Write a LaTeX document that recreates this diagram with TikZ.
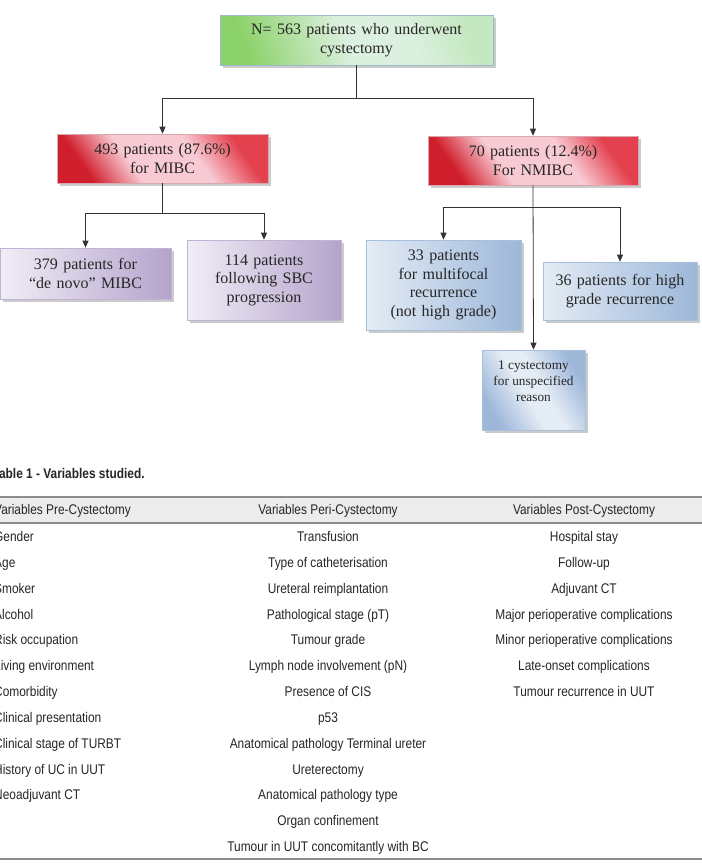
\documentclass[tikz,border=0pt]{standalone}
\usepackage{fontspec}
\setmainfont{Liberation Serif}
\newfontfamily\tabfont[FakeStretch=0.85]{Liberation Sans}
\usepackage{tikz}
\usetikzlibrary{arrows.meta,shadows}

\definecolor{linegray}{HTML}{333333}
\definecolor{rulegray}{HTML}{8C8C8C}
\definecolor{headgray}{HTML}{ECECEC}
\definecolor{greenL}{HTML}{8CD26A}
\definecolor{greenM}{HTML}{DCF0DF}
\definecolor{greenR}{HTML}{C4E8C0}
\definecolor{greenedge}{HTML}{9DBBCB}
\definecolor{redD}{HTML}{D01F2C}
\definecolor{redM}{HTML}{F8CAD3}
\definecolor{redR}{HTML}{E3414E}
\definecolor{rededge}{HTML}{D8A8B0}
\definecolor{purL}{HTML}{F1EDF6}
\definecolor{purM}{HTML}{DCD4E8}
\definecolor{purR}{HTML}{B4A4CC}
\definecolor{puredge}{HTML}{C0B4D4}
\definecolor{bluL}{HTML}{E4ECF5}
\definecolor{bluM}{HTML}{CDDBEC}
\definecolor{bluR}{HTML}{9DB7D9}
\definecolor{bluedge}{HTML}{A8C0DC}

\pgfdeclarehorizontalshading{redfade}{100bp}{color(0bp)=(redD); color(26bp)=(redD); color(40bp)=(redM); color(60bp)=(redM); color(74bp)=(redR); color(100bp)=(redR)}
\pgfdeclarehorizontalshading{greenfade}{100bp}{color(0bp)=(greenL); color(25bp)=(greenL); color(48bp)=(greenM); color(62bp)=(greenM); color(75bp)=(greenR); color(100bp)=(greenR)}
\pgfdeclarehorizontalshading{bluefade}{100bp}{color(0bp)=(bluR); color(25bp)=(bluR); color(45bp)=(bluL); color(55bp)=(bluL); color(75bp)=(bluR); color(100bp)=(bluR)}

\tikzset{
  box/.style={draw=#1, line width=0.6pt, align=center, inner xsep=2pt, inner ysep=0pt,
    font=\fontsize{16}{18.5}\selectfont, text=black!85,
    drop shadow={shadow xshift=2.5pt, shadow yshift=-2.5pt, fill=black!40}},
  greenbox/.style={box=greenedge, shading=greenfade, shading angle=20},
  redbox/.style={box=rededge, shading=redfade, shading angle=35},
  purbox/.style={box=puredge, left color=purL, middle color=purM, right color=purR},
  blubox/.style={box=bluedge, left color=bluL, middle color=bluM, right color=bluR},
  link/.style={draw=linegray, line width=0.8pt},
  cell/.style={font=\tabfont\fontsize{14}{16}\selectfont, text=black!85, inner sep=0pt, anchor=base},
}

\begin{document}
\begin{tikzpicture}[x=1pt, y=1pt, >={Triangle[length=7pt,width=6pt]}]
        \path [use as bounding box, fill=white] (0,0) rectangle (702,-863);

        % flow chart
        \node [greenbox, text width=269pt, minimum height=50pt] (cyst)   at (356.5,-40)  {N= 563 patients who underwent\\cystectomy};
        \node [redbox,   text width=207pt, minimum height=49pt] (mibc)   at (162.5,-158.5) {493 patients (87.6\%)\\for MIBC};
        \node [redbox,   text width=206pt, minimum height=49pt] (nmibc)  at (533,-160.5) {70 patients (12.4\%)\\For NMIBC};
        \node [purbox,   text width=167pt, minimum height=51pt] (denovo) at (85.5,-273.5) {379 patients for\\“de novo” MIBC};
        \node [purbox,   text width=150pt, minimum height=80pt] (sbc)    at (264,-280)   {114 patients\\following SBC\\progression};
        \node [blubox,   text width=151pt, minimum height=90pt] (multi)  at (443.5,-285) {33 patients\\for multifocal\\recurrence\\(not high grade)};
        \node [blubox,   text width=150pt, minimum height=58pt] (highgr) at (620,-291)   {36 patients for high\\grade recurrence};
        \node [box=bluedge, shading=bluefade, shading angle=30,
               inner ysep=11pt, font=\fontsize{13.3}{16}\selectfont] (unspec) at (533.5,-390)
               {\parbox[c][58pt][t]{99pt}{\centering 1 cystectomy\\for unspecified\\reason}};

        \coordinate (j0) at (356.5,-98);                          %
        \coordinate (j1) at (162.5,-213);                         %
        \coordinate (j2) at (533,-207);                           %
        \draw [link]     (cyst.south)  -- (j0);                   %
        \draw [link, ->] (j0)          -| (mibc.north);           %
        \draw [link, ->] (j0)          -| (nmibc.north);          %
        \draw [link]     (mibc.south)  -- (j1);                   %
        \draw [link, ->] (j1)          -| (denovo.north);         %
        \draw [link, ->] (j1)          -| (sbc.north);            %
        \draw [link, ->] (nmibc.south) -- (unspec.north);         %
        \draw [link, ->] (j2)          -| (multi.north);          %
        \draw [link, ->] (j2)          -| (highgr.north);         %

        % table
        \node [cell, anchor=base west, font=\tabfont\bfseries\fontsize{14}{16}\selectfont] (caption) at (-7.5,-478) {Table 1 - Variables studied.};
        \fill [headgray] (0,-497) rectangle (702,-523);           %
        \draw [rulegray, line width=1.2pt] (0,-497) -- (702,-497);%
        \draw [rulegray, line width=1.2pt] (0,-523) -- (702,-523);%
        \draw [rulegray, line width=1.2pt] (0,-859) -- (702,-859);%
        \node [cell, anchor=base west] (hpre)  at (-6,-514.5) {Variables Pre-Cystectomy};
        \node [cell]                   (hperi) at (328,-514.5) {Variables Peri-Cystectomy};
        \node [cell]                   (hpost) at (584,-514.5) {Variables Post-Cystectomy};

        \node [cell, anchor=base west] (pre1)  at (-6,-541.5) {Gender};
        \node [cell, anchor=base west] (pre2)  at (-6,-567.3) {Age};
        \node [cell, anchor=base west] (pre3)  at (-6,-593.2) {Smoker};
        \node [cell, anchor=base west] (pre4)  at (-6,-619.0) {Alcohol};
        \node [cell, anchor=base west] (pre5)  at (-6,-644.8) {Risk occupation};
        \node [cell, anchor=base west] (pre6)  at (-6,-670.7) {Living environment};
        \node [cell, anchor=base west] (pre7)  at (-6,-696.5) {Comorbidity};
        \node [cell, anchor=base west] (pre8)  at (-6,-722.3) {Clinical presentation};
        \node [cell, anchor=base west] (pre9)  at (-6,-748.1) {Clinical stage of TURBT};
        \node [cell, anchor=base west] (pre10) at (-6,-774.0) {History of UC in UUT};
        \node [cell, anchor=base west] (pre11) at (-6,-799.8) {Neoadjuvant CT};

        \node [cell] (peri1)  at (328,-541.5) {Transfusion};
        \node [cell] (peri2)  at (328,-567.3) {Type of catheterisation};
        \node [cell] (peri3)  at (328,-593.2) {Ureteral reimplantation};
        \node [cell] (peri4)  at (328,-619.0) {Pathological stage (pT)};
        \node [cell] (peri5)  at (328,-644.8) {Tumour grade};
        \node [cell] (peri6)  at (328,-670.7) {Lymph node involvement (pN)};
        \node [cell] (peri7)  at (328,-696.5) {Presence of CIS};
        \node [cell] (peri8)  at (328,-722.3) {p53};
        \node [cell] (peri9)  at (328,-748.1) {Anatomical pathology Terminal ureter};
        \node [cell] (peri10) at (328,-774.0) {Ureterectomy};
        \node [cell] (peri11) at (328,-799.8) {Anatomical pathology type};
        \node [cell] (peri12) at (328,-825.6) {Organ confinement};
        \node [cell] (peri13) at (328,-851.5) {Tumour in UUT concomitantly with BC};

        \node [cell] (post1) at (584,-541.5) {Hospital stay};
        \node [cell] (post2) at (584,-567.3) {Follow-up};
        \node [cell] (post3) at (584,-593.2) {Adjuvant CT};
        \node [cell] (post4) at (584,-619.0) {Major perioperative complications};
        \node [cell] (post5) at (584,-644.8) {Minor perioperative complications};
        \node [cell] (post6) at (584,-670.7) {Late-onset complications};
        \node [cell] (post7) at (584,-696.5) {Tumour recurrence in UUT};
\end{tikzpicture}
\end{document}
